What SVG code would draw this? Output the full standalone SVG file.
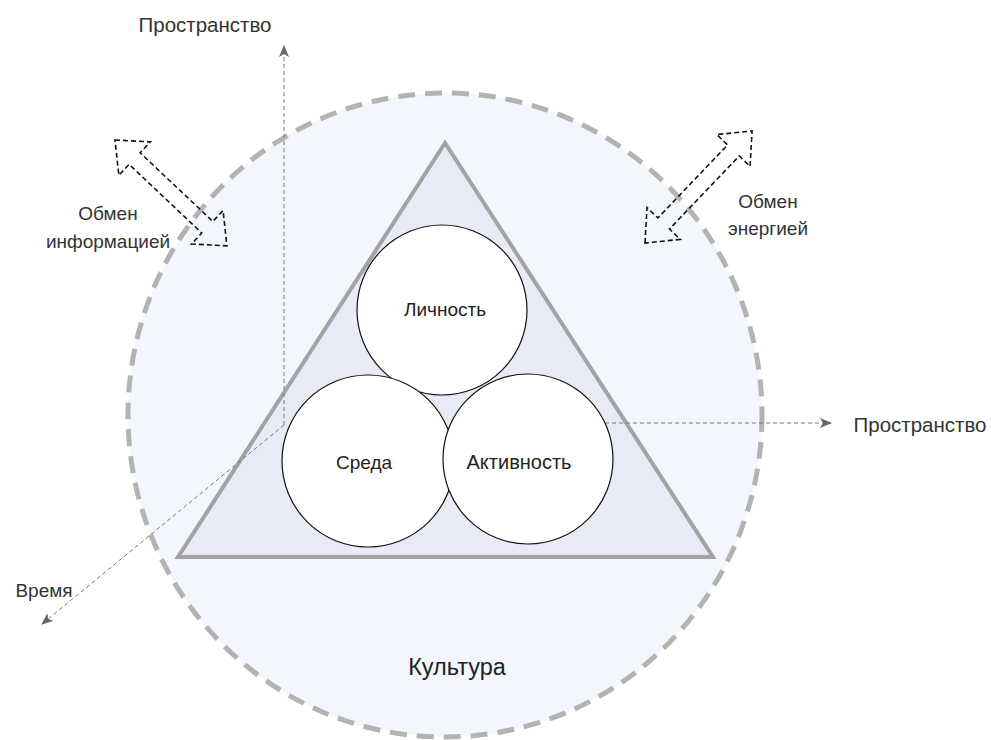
<svg xmlns="http://www.w3.org/2000/svg" width="991" height="740" viewBox="0 0 991 740">
<style>
.lbl{font-family:"Liberation Sans",Arial,sans-serif;font-size:19px;fill:#222;text-anchor:middle}
.side{font-family:"Liberation Sans",Arial,sans-serif;font-size:19px;fill:#333;text-anchor:middle}
.big{font-size:20.5px}
.axis{fill:none;stroke:#777;stroke-width:1;stroke-dasharray:4 3}
.flex{fill:none;stroke:#111;stroke-width:1.6;stroke-dasharray:5 3}
.node{fill:#fff;stroke:#111;stroke-width:1.2}
</style>
<defs>
<marker id="ah" markerWidth="12" markerHeight="10" refX="11" refY="5" orient="auto" markerUnits="userSpaceOnUse">
<path d="M0,0 L12,5 L0,10 L3,5 Z" fill="#666"/>
</marker>
</defs>
<rect width="991" height="740" fill="#fff"/>
<g id="culture">
<ellipse cx="445" cy="415" rx="317" ry="322" fill="#f3f6fd" stroke="#b3b3b3" stroke-width="5" stroke-dasharray="17 10"/>
<text class="lbl" x="457" y="675" style="font-size:23.5px">Культура</text>
</g>
<g id="triangle">
<polygon points="445,143 178,557 713,557" fill="#e8ebf5" stroke="#a3a3a3" stroke-width="4" stroke-linejoin="miter"/>
</g>
<g id="connectors">
<line class="axis" x1="284" y1="425" x2="284" y2="46" marker-end="url(#ah)"/>
<line class="axis" x1="284" y1="425" x2="42" y2="624" marker-end="url(#ah)"/>
<line class="axis" x1="605" y1="423" x2="831" y2="423" marker-end="url(#ah)"/>
<path class="flex" transform="translate(115,140) rotate(43.4)" d="M0,0 L27,-23 L27,-8 L127,-8 L127,-23 L154,0 L127,23 L127,8 L27,8 L27,23 Z"/>
<path class="flex" transform="translate(645,243) rotate(-46.3)" d="M0,0 L27,-23 L27,-8 L128,-8 L128,-23 L155,0 L128,23 L128,8 L27,8 L27,23 Z"/>
</g>
<g id="lichnost">
<circle class="node" cx="442" cy="310" r="85"/>
<text class="lbl" x="445" y="316">Личность</text>
</g>
<g id="sreda">
<circle class="node" cx="368" cy="461" r="86"/>
<text class="lbl" x="364" y="469">Среда</text>
</g>
<g id="aktivnost">
<circle class="node" cx="528" cy="459" r="85"/>
<text class="lbl" x="519" y="469" style="font-size:20px">Активность</text>
</g>
<g id="labels">
<text class="side big" x="205" y="32">Пространство</text>
<text class="side big" x="920" y="432">Пространство</text>
<text class="side" x="44" y="597">Время</text>
<text class="side" x="108" y="220">Обмен</text>
<text class="side" x="108" y="248">информацией</text>
<text class="side" x="768" y="208">Обмен</text>
<text class="side" x="768" y="235">энергией</text>
</g>
</svg>
